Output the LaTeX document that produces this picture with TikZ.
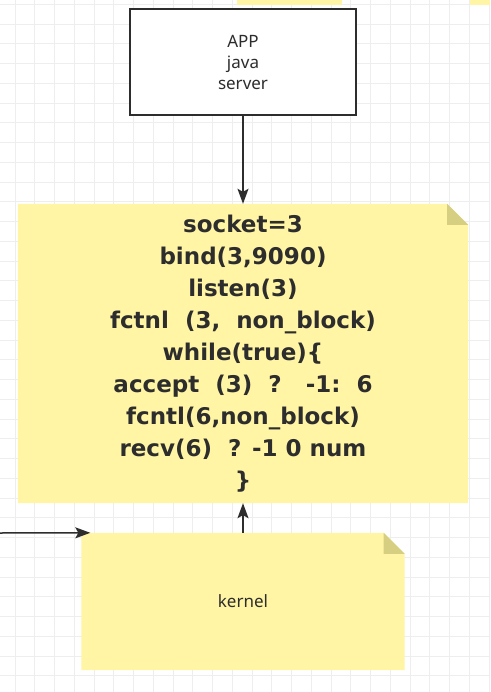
\documentclass[tikz,border=0pt]{standalone}
\usepackage{fontspec}
\setmainfont{Noto Sans}
\newfontfamily\codefont{DejaVu Sans}
\usetikzlibrary{arrows.meta}
\usetikzlibrary{backgrounds}
\definecolor{notefill}{RGB}{255,245,165}
\definecolor{notefold}{RGB}{214,206,128}
\definecolor{gridgrey}{RGB}{238,238,238}
\definecolor{inkgrey}{RGB}{45,45,45}
% paper with a folded top right corner, behind a named node
\newcommand\notepaper[2]{%
\fill[notefill] (#1.south west) -- (#1.north west) -- ([xshift=-#2]#1.north east) -- ([yshift=-#2]#1.north east) -- (#1.south east) -- cycle;
\fill[notefold] ([xshift=-#2]#1.north east) -- ([xshift=-#2,yshift=-#2]#1.north east) -- ([yshift=-#2]#1.north east) -- cycle;}
\tikzset{link/.style={->,draw=inkgrey,line width=1.5pt}}

\begin{document}
\begin{tikzpicture}[x=1pt,y=-1pt,>={Stealth[length=15pt,width=11pt,inset=3pt]}]
\useasboundingbox (0,0) rectangle (490,692);
\node (APP) [rectangle,draw=inkgrey,line width=1.6pt,fill=white,minimum width=226pt,minimum height=106pt,align=center,text=inkgrey,font=\fontsize{17}{21}\selectfont] at (243,62) {APP\\java\\server};
\node (SOCK) [rectangle,minimum width=450pt,minimum height=299pt,align=center,text=inkgrey,font=\codefont\bfseries\fontsize{23}{32}\selectfont] at (243,353.5) {socket=3\\bind(3,9090)\\listen(3)\\fctnl\ \ (3,\ \ non\_block)\\while(true)\{\\accept\ \ (3)\ \ ?\ \ \ -1:\ \ 6\\fcntl(6,non\_block)\\recv(6)\ \ ? -1 0 num\\\}};
\node (KERN) [rectangle,minimum width=323pt,minimum height=137pt,text=inkgrey,font=\fontsize{17}{21}\selectfont] at (243,601.5) {kernel};
\coordinate (LEFT) at (0,533);
\draw [link] (APP.south) -- (SOCK.north);
\draw [link] (KERN.north) -- (SOCK.south);
\draw [link] (LEFT) -- ([xshift=9pt]KERN.north west);
\begin{scope}[on background layer]
\foreach \x in {15,34.75,...,490} \draw[gridgrey,line width=0.7pt] (\x,0) -- (\x,692);
\foreach \y in {4.25,24,...,692} \draw[gridgrey,line width=0.7pt] (0,\y) -- (490,\y);
\fill[notefill] (237,0) rectangle (342,5);
\fill[notefill] (470,0) rectangle (490,5);
\notepaper{SOCK}{21pt}
\notepaper{KERN}{21pt}
\end{scope}
\end{tikzpicture}
\end{document}
